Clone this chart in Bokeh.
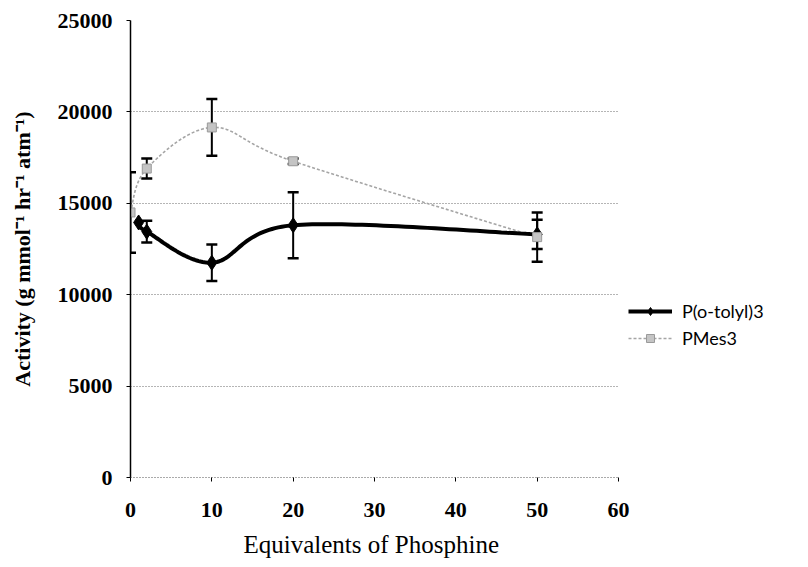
from bokeh.plotting import figure
from bokeh.models import (Range1d, FixedTicker, Whisker, TeeHead, ColumnDataSource,
                          Legend, LegendItem, BasicTickFormatter, Title)
from bokeh.embed import file_html
from bokeh.resources import INLINE

# ---- data ----
tolyl_x = [1, 2, 10, 20, 50]
tolyl_y = [13950, 13450, 11750, 13800, 13300]
tolyl_err = [0, 600, 1000, 1800, 800]

mes_x = [0, 2, 10, 20, 50]
mes_y = [14500, 16900, 19150, 17300, 13150]
mes_err = [2200, 550, 1550, 150, 1350]

x_ticks = [0, 10, 20, 30, 40, 50, 60]
y_ticks = [0, 5000, 10000, 15000, 20000, 25000]


def smooth(xs, ys, n=40):
    """Excel-style smoothed line (cubic Bezier through the points)."""
    pts = list(zip(xs, ys))
    out_x, out_y = [], []
    m = len(pts)
    for i in range(m - 1):
        p0 = pts[i - 1] if i > 0 else pts[i]
        p1 = pts[i]
        p2 = pts[i + 1]
        p3 = pts[i + 2] if i + 2 < m else pts[i + 1]
        c1 = (p1[0] + (p2[0] - p0[0]) / 6, p1[1] + (p2[1] - p0[1]) / 6)
        c2 = (p2[0] - (p3[0] - p1[0]) / 6, p2[1] - (p3[1] - p1[1]) / 6)
        for k in range(n + 1):
            if i > 0 and k == 0:
                continue
            t = k / n
            a = (1 - t) ** 3
            b = 3 * (1 - t) ** 2 * t
            c = 3 * (1 - t) * t ** 2
            d = t ** 3
            out_x.append(a * p1[0] + b * c1[0] + c * c2[0] + d * p2[0])
            out_y.append(a * p1[1] + b * c1[1] + c * c2[1] + d * p2[1])
    return out_x, out_y


# frame spans 640 px; the axis (0..60) occupies the first 488 px, the rest holds the legend
FRAME_W = 640
AXIS_W = 488
x_end = 60 * FRAME_W / AXIS_W

p = figure(width=800, height=567, output_backend="svg", toolbar_location=None,
           x_range=Range1d(0, x_end), y_range=Range1d(0, 25000),
           min_border_left=130, min_border_right=800 - 130 - FRAME_W,
           min_border_top=20, min_border_bottom=90)
p.outline_line_color = None
p.background_fill_color = "white"
p.border_fill_color = "white"

# grid
p.xgrid.grid_line_color = None
p.ygrid.grid_line_color = "#6a6a6a"
p.ygrid.grid_line_dash = "1 2"
p.ygrid.grid_line_width = 1
p.ygrid.ticker = FixedTicker(ticks=y_ticks)
p.ygrid.cross_bounds = (0, 60)

# axes
serif = "Liberation Serif"
p.xaxis.ticker = FixedTicker(ticks=x_ticks)
p.xaxis.bounds = (0, 60)
p.yaxis.ticker = FixedTicker(ticks=y_ticks)
p.yaxis.formatter = BasicTickFormatter(use_scientific=False)
for ax in (p.xaxis[0], p.yaxis[0]):
    ax.major_label_text_font = serif
    ax.major_label_text_font_style = "bold"
    ax.major_label_text_font_size = "22px"
    ax.major_label_text_color = "black"
    ax.minor_tick_line_color = None
    ax.major_tick_in = 0
    ax.major_tick_out = 4
    ax.major_tick_line_color = "black"
    ax.axis_label_text_font = serif
    ax.axis_label_text_color = "black"

p.yaxis.axis_line_color = "black"
p.yaxis.axis_line_width = 1.5
p.yaxis.major_label_standoff = 14
p.yaxis.axis_label = "Activity (g mmol\u207b\u00b9 hr\u207b\u00b9 atm\u207b\u00b9)"
p.yaxis.axis_label_text_font_style = "bold"
p.yaxis.axis_label_text_font_size = "22px"
p.yaxis.axis_label_standoff = 20

p.xaxis.axis_line_color = "#555555"
p.xaxis.axis_line_dash = "1 2"
p.xaxis.major_label_standoff = 21

# x-axis title, centred under the 0..60 axis
xtitle = Title(text="Equivalents of Phosphine", align="left", offset=113,
               text_font=serif, text_font_size="25px", text_font_style="normal",
               text_color="black", standoff=19)
p.add_layout(xtitle, "below")

# PMes3 series (gray)
gx, gy = smooth(mes_x, mes_y)
mes_line = p.line(gx, gy, line_color="#a5a5a5", line_width=1.6, line_dash="3 2")

# P(o-tolyl)3 series (black)
bx, by = smooth(tolyl_x, tolyl_y)
tol_line = p.line(bx, by, line_color="black", line_width=4)
tol_marker = p.scatter(tolyl_x, tolyl_y, marker="diamond", size=15,
                       fill_color="black", line_color="black")

# error bars
def add_err(xs, ys, es):
    rows = [(x, y, e) for x, y, e in zip(xs, ys, es) if e > 0]
    src = ColumnDataSource(dict(base=[r[0] for r in rows],
                                upper=[r[1] + r[2] for r in rows],
                                lower=[r[1] - r[2] for r in rows]))
    w = Whisker(source=src, base="base", upper="upper", lower="lower",
                line_color="black", line_width=2,
                upper_head=TeeHead(size=11, line_color="black", line_width=2.5),
                lower_head=TeeHead(size=11, line_color="black", line_width=2.5))
    p.add_layout(w)

add_err(tolyl_x, tolyl_y, tolyl_err)
add_err(mes_x, mes_y, mes_err)

mes_marker = p.scatter(mes_x, mes_y, marker="square", size=9,
                       fill_color="#c4c4c4", line_color="#9a9a9a", line_width=1)

legend = Legend(items=[LegendItem(label="P(o-tolyl)3", renderers=[tol_line, tol_marker]),
                       LegendItem(label="PMes3", renderers=[mes_line, mes_marker])],
                location=(498, 128))
legend.border_line_color = None
legend.background_fill_alpha = 0
legend.label_text_font = "Lato"
legend.label_text_font_size = "18px"
legend.label_text_color = "black"
legend.glyph_width = 44
legend.glyph_height = 20
legend.label_height = 20
legend.spacing = 5
legend.padding = 0
legend.margin = 0
legend.label_standoff = 10
p.add_layout(legend, "center")

open("out.html", "w").write(file_html(p, INLINE))
